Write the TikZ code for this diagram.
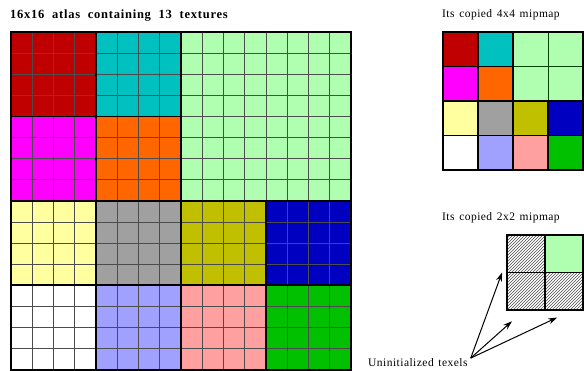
\documentclass[tikz,border=0pt]{standalone}
\usepackage{fontspec}
\setmainfont{Liberation Serif}
\newfontfamily\titlefont[LetterSpace=6,WordSpace=2.0]{Liberation Serif}
\newfontfamily\labelfont[LetterSpace=4,WordSpace=1.4]{Liberation Serif}
\usepackage{tikz}
\usetikzlibrary{arrows.meta, patterns}
\definecolor{tred}{RGB}{192,0,0}
\definecolor{tcyan}{RGB}{0,192,192}
\definecolor{tlgreen}{RGB}{176,255,176}
\definecolor{tmag}{RGB}{255,0,255}
\definecolor{torange}{RGB}{255,102,0}
\definecolor{tyellow}{RGB}{255,255,160}
\definecolor{tgray}{RGB}{160,160,160}
\definecolor{tolive}{RGB}{192,192,0}
\definecolor{tblue}{RGB}{0,0,192}
\definecolor{tlav}{RGB}{160,160,255}
\definecolor{tpink}{RGB}{255,160,160}
\definecolor{tgreen}{RGB}{0,192,0}
\tikzset{
  cell/.style={draw=black!70,line width=0.7pt},
  blockedge/.style={draw=black,line width=1.8pt},
  hatched/.style={pattern=north east lines,pattern color=black!70},
  heading/.style={font=\titlefont\bfseries\fontsize{12.5}{14}\selectfont,inner sep=0pt},
  caption/.style={font=\labelfont\fontsize{11.5}{13}\selectfont,inner sep=0pt},
  ar/.style={-{Stealth[length=9pt,width=6pt]},line width=1pt,draw=black}
}
\begin{document}
\begin{tikzpicture}[x=1pt,y=-1pt]
\useasboundingbox (0,0) rectangle (584,370);
\node[heading,anchor=base west] (atlas) at (10,18) {16x16 atlas containing 13 textures};
\node[caption,anchor=base west] (mip4) at (442,17) {Its copied 4x4 mipmap};
\node[caption,anchor=base west] (mip2) at (442,220) {Its copied 2x2 mipmap};
\node[caption,anchor=base west] (uninit) at (368,366) {Uninitialized texels};

% 16x16 atlas
\begin{scope}[shift={(11,32)},x=21.25pt,y=-21.1pt]
  \foreach \c/\r/\s/\col in {0/0/4/tred,4/0/4/tcyan,8/0/8/tlgreen,0/4/4/tmag,4/4/4/torange,
      0/8/4/tyellow,4/8/4/tgray,8/8/4/tolive,12/8/4/tblue,
      0/12/4/white,4/12/4/tlav,8/12/4/tpink,12/12/4/tgreen}
    \fill[\col] (\c,\r) rectangle ++(\s,\s);
  \foreach \i in {1,...,15} {
    \draw[cell] (\i,0) -- (\i,16);
    \draw[cell] (0,\i) -- (16,\i);
  }
  \foreach \c/\r/\s in {0/0/4,4/0/4,8/0/8,0/4/4,4/4/4,0/8/4,4/8/4,8/8/4,12/8/4,
      0/12/4,4/12/4,8/12/4,12/12/4}
    \draw[blockedge] (\c,\r) rectangle ++(\s,\s);
\end{scope}

% 4x4 mipmap
\begin{scope}[shift={(443,32)},x=35pt,y=-34.5pt]
  \fill[tlgreen] (2,0) rectangle (4,2);
  \draw[cell,draw=green!25!black] (3,0) -- (3,2) (2,1) -- (4,1);
  \draw[blockedge] (2,0) rectangle (4,2);
  \foreach \c/\r/\col in {0/0/tred,1/0/tcyan,0/1/tmag,1/1/torange,
      0/2/tyellow,1/2/tgray,2/2/tolive,3/2/tblue,
      0/3/white,1/3/tlav,2/3/tpink,3/3/tgreen}
    \draw[blockedge,fill=\col] (\c,\r) rectangle ++(1,1);
\end{scope}

% 2x2 mipmap
\begin{scope}[shift={(507,235)},x=38pt,y=-37.5pt]
  \draw[blockedge,hatched] (0,0) rectangle ++(1,1);
  \draw[blockedge,fill=tlgreen] (1,0) rectangle ++(1,1);
  \draw[blockedge,hatched] (0,1) rectangle ++(1,1);
  \draw[blockedge,hatched] (1,1) rectangle ++(1,1);
  \coordinate (texA) at (-0.13,1);
  \coordinate (texB) at (0.13,2.3);
  \coordinate (texC) at (1.32,2.2);
\end{scope}

\draw[ar] (uninit.east) ++(3,-4) coordinate (src) -- (texA);
\draw[ar] (src) -- (texB);
\draw[ar] (src) -- (texC);
\end{tikzpicture}
\end{document}
